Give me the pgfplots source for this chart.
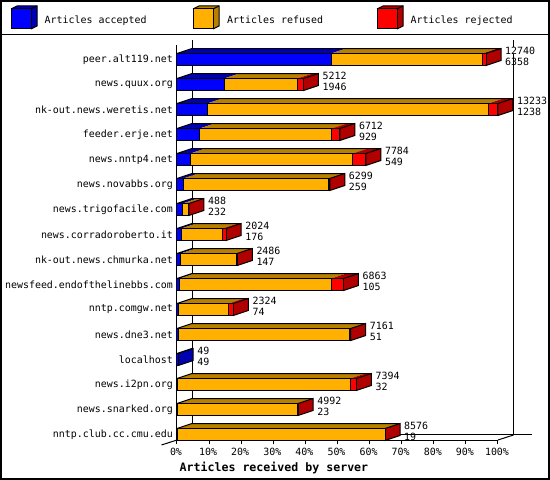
\documentclass[border=0pt]{standalone}
\usepackage{fontspec}
\setmainfont{DejaVu Sans Mono}
\usepackage{pgfplots}
\usepackage{pgfplotstable}
\pgfplotsset{compat=1.18}

\definecolor{acc}{HTML}{0000FF}
\definecolor{accd}{HTML}{0000B0}
\definecolor{ref}{HTML}{FFB000}
\definecolor{refd}{HTML}{B88000}
\definecolor{rej}{HTML}{FF0000}
\definecolor{rejd}{HTML}{B00000}

% 1pt here = 1 pixel of the reference
\newcommand{\txt}{\fontsize{9.95}{12}\selectfont}

\pgfplotstableread[col sep=comma]{
row,total,accepted,rejected
0,12740,6358,150
1,5212,1946,250
2,13233,1238,400
3,6712,929,330
4,7784,549,535
5,6299,259,40
6,488,232,5
7,2024,176,130
8,2486,147,30
9,6863,105,495
10,2324,74,190
11,7161,51,30
12,49,49,0
13,7394,32,250
14,4992,23,10
15,8576,19,0
}\data

% legend box: x of the left edge, fill, dark fill
\newcommand{\legbox}[3]{%
  \fill[#3] (#1,471) -- (#1+6,474) -- (#1+26,474) -- (#1+26,454) -- (#1+20,451) -- (#1+20,471) -- cycle;
  \draw[line width=1pt] (#1,471) -- (#1+6,474) -- (#1+26,474) -- (#1+26,454) -- (#1+20,451);
  \draw[line width=1pt] (#1+20,471) -- (#1+26,474);
  \draw[line width=1pt,fill=#2] (#1,451) rectangle (#1+20,471);
}

\begin{document}
\begin{tikzpicture}[x=1pt,y=1pt]
\useasboundingbox (0,0) rectangle (550,480);
\draw[line width=2pt] (1,1) rectangle (549,479);
\draw[line width=1pt] (0,445) -- (550,445);

\legbox{11}{acc}{accd}
\legbox{193}{ref}{refd}
\legbox{377}{rej}{rejd}
\node[anchor=base west,inner sep=0pt,font=\txt] at (44.5,456.5) {Articles accepted};
\node[anchor=base west,inner sep=0pt,font=\txt] at (227,456.5) {Articles refused};
\node[anchor=base west,inner sep=0pt,font=\txt] at (410.5,456.5) {Articles rejected};

% back wall of the 3D box
\draw[line width=1pt] (192,440) -- (192,45);
\draw[line width=1pt] (513.5,440) -- (513.5,45);
\draw[line width=1pt] (192,45) -- (531.5,45);
\draw[line width=1pt] (177,40) -- (161.5,35);
\draw[line width=1pt] (498,40) -- (513.5,45);

\begin{axis}[
    at={(177pt,40pt)},
    anchor=south west,
    scale only axis,
    width=321pt,
    height=395pt,
    xmin=0, xmax=13233,
    ymin=-0.58, ymax=15.22,
    y dir=reverse,
    clip=false,
    axis lines=left,
    axis line style={-,line width=1pt,black},
    tick align=outside,
    major tick length=4pt,
    scaled x ticks=false,
    xtick={0,1323.3,2646.6,3969.9,5293.2,6616.5,7939.8,9263.1,10586.4,11909.7,13233},
    xticklabels={0\%,10\%,20\%,30\%,40\%,50\%,60\%,70\%,80\%,90\%,100\%},
    xtick style={line width=1pt,black},
    xticklabel style={font=\txt,inner sep=0pt,yshift=-4pt,xshift=-1pt},
    ytick={0,...,15},
    yticklabels={peer.alt119.net,news.quux.org,nk-out.news.weretis.net,feeder.erje.net,news.nntp4.net,news.novabbs.org,news.trigofacile.com,news.corradoroberto.it,nk-out.news.chmurka.net,newsfeed.endofthelinebbs.com,nntp.comgw.net,news.dne3.net,localhost,news.i2pn.org,news.snarked.org,nntp.club.cc.cmu.edu},
    ytick style={draw=none},
    yticklabel style={font=\txt,inner sep=0pt,anchor=east},
    xlabel={\textbf{Articles received by server}},
    xlabel style={font=\fontsize{11.6}{13}\selectfont,at={(axis description cs:0.302,-0.08)},anchor=base,inner sep=0pt},
    every node near coord/.append style={font=\txt,inner sep=0pt,anchor=base west},
]

% top and side faces, one bar after the other
\pgfplotsforeachungrouped \i in {0,...,15} {
    \pgfplotstablegetelem{\i}{total}\of\data
    \pgfmathsetmacro{\tot}{\pgfplotsretval}
    \pgfplotstablegetelem{\i}{accepted}\of\data
    \pgfmathsetmacro{\acc}{\pgfplotsretval}
    \pgfplotstablegetelem{\i}{rejected}\of\data
    \pgfmathsetmacro{\rj}{\tot-\pgfplotsretval}
    \pgfmathsetmacro{\yf}{\i-0.24}
    \pgfmathsetmacro{\yb}{\i-0.44}
    \pgfmathsetmacro{\yc}{\i+0.04}
    \pgfmathsetmacro{\ye}{\i+0.24}
    \pgfmathsetmacro{\aB}{\acc+618.4}
    \pgfmathsetmacro{\rB}{\rj+618.4}
    \pgfmathsetmacro{\tB}{\tot+618.4}
    \addplot[fill=accd,draw=none] coordinates {(0,\yf) (618.4,\yb) (\aB,\yb) (\acc,\yf)} --cycle;
    \addplot[fill=refd,draw=none] coordinates {(\acc,\yf) (\aB,\yb) (\rB,\yb) (\rj,\yf)} --cycle;
    \addplot[fill=rejd,draw=none] coordinates {(\rj,\yf) (\rB,\yb) (\tB,\yb) (\tot,\yf)} --cycle;
    \addplot[line width=1pt,black] coordinates {(0,\yf) (618.4,\yb) (\tB,\yb)};
    \pgfmathparse{\tot>\acc ? 1 : 0}
    \ifnum\pgfmathresult=1
      \addplot[fill=rejd,draw=black,line width=1pt] coordinates {(\tot,\yf) (\tB,\yb) (\tB,\yc) (\tot,\ye)} --cycle;
    \else
      \addplot[fill=accd,draw=black,line width=1pt] coordinates {(\tot,\yf) (\tB,\yb) (\tB,\yc) (\tot,\ye)} --cycle;
    \fi
}

% front faces
\addplot[xbar,bar shift=0pt,bar width=12pt,fill=rej,draw=black,line width=1pt]
    table[x=total,y=row] {\data};
\addplot[xbar,bar shift=0pt,bar width=12pt,fill=ref,draw=black,line width=1pt]
    table[x expr=\thisrow{total}-\thisrow{rejected},y=row] {\data};
\addplot[xbar,bar shift=0pt,bar width=12pt,fill=acc,draw=black,line width=1pt]
    table[x=accepted,y=row] {\data};

% the two numbers beside each bar
\addplot[draw=none,point meta=explicit symbolic,
    nodes near coords,
    every node near coord/.append style={xshift=19pt,yshift=5.5pt,fill=white,text depth=0pt}]
    table[x=total,y=row,meta=total] {\data};
\addplot[draw=none,point meta=explicit symbolic,
    nodes near coords,
    every node near coord/.append style={xshift=19pt,yshift=-5.5pt}]
    table[x=total,y=row,meta=accepted] {\data};

\end{axis}
\end{tikzpicture}
\end{document}
